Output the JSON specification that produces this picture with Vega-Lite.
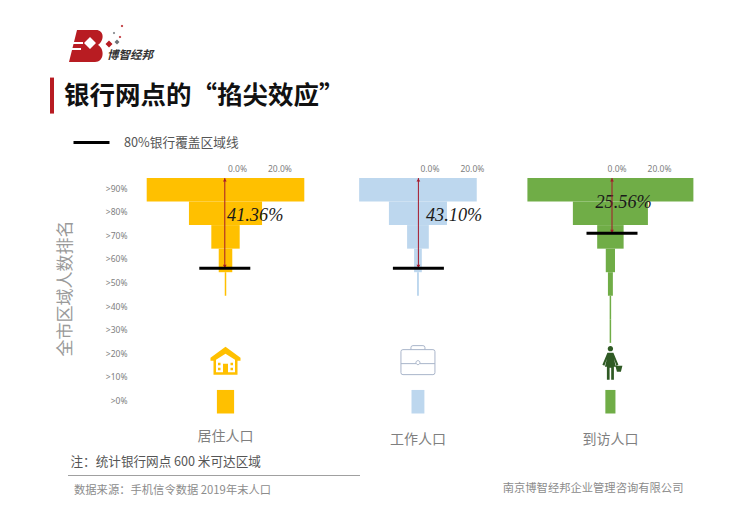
{
"$schema":"https://vega.github.io/schema/vega-lite/v6.json",
"width":738,"height":508,"padding":0,"background":"white",
"autosize":{"type":"fit","contains":"padding"},
"config":{"view":{"stroke":null},"font":"Noto Sans CJK SC"},
"datasets":{
"bars":[
{"group":"居住人口","rank":">90%","share":73.3},{"group":"居住人口","rank":">80%","share":34.0},{"group":"居住人口","rank":">70%","share":13.2},{"group":"居住人口","rank":">60%","share":6.3},{"group":"居住人口","rank":">50%","share":0.7},{"group":"居住人口","rank":">0%","share":8.0},
{"group":"工作人口","rank":">90%","share":54.7},{"group":"工作人口","rank":">80%","share":27.0},{"group":"工作人口","rank":">70%","share":10.1},{"group":"工作人口","rank":">60%","share":3.6},{"group":"工作人口","rank":">50%","share":0.9},{"group":"工作人口","rank":">0%","share":6.0},
{"group":"到访人口","rank":">90%","share":77.2},{"group":"到访人口","rank":">80%","share":34.9},{"group":"到访人口","rank":">70%","share":12.3},{"group":"到访人口","rank":">60%","share":4.3},{"group":"到访人口","rank":">50%","share":2.3},{"group":"到访人口","rank":">40%","share":0.7},{"group":"到访人口","rank":">30%","share":0.7},{"group":"到访人口","rank":">0%","share":4.7}
],
"cover":[
{"group":"居住人口","rank":">80%","coverage":"41.36%","cutoff":61.66},
{"group":"工作人口","rank":">80%","coverage":"43.10%","cutoff":61.66},
{"group":"到访人口","rank":">90%","coverage":"25.56%","cutoff":76.5}
],
"ticks":[
{"group":"居住人口","rank":"h7","label":"0.0%","value":0},{"group":"居住人口","rank":"h7","label":"20.0%","value":20},
{"group":"工作人口","rank":"h7","label":"0.0%","value":0},{"group":"工作人口","rank":"h7","label":"20.0%","value":20},
{"group":"到访人口","rank":"h7","label":"0.0%","value":0},{"group":"到访人口","rank":"h7","label":"20.0%","value":20}
]
},
"resolve":{"scale":{"x":"independent","y":"independent","color":"independent"}},
"layer":[
{
"encoding":{
"x":{"field":"group","type":"nominal","axis":null,"scale":{"type":"point","domain":["居住人口","工作人口","到访人口"],"range":[225.5,610.4],"padding":0}},
"y":{"field":"rank","type":"ordinal","scale":{"type":"band","domain":["h1","h2","h3","h4","h5","h6","h7",">90%",">80%",">70%",">60%",">50%",">40%",">30%",">20%",">10%",">0%","b1","b2","b3","b4"],"range":[13.15,507.7],"paddingInner":0,"paddingOuter":0},
"axis":{"values":[">90%",">80%",">70%",">60%",">50%",">40%",">30%",">20%",">10%",">0%"],"offset":-127,"domain":false,"ticks":false,"labelPadding":0,"labelFontSize":8.5,"labelColor":"#808080","labelOffset":-1,"labelFont":"Noto Sans","title":"全市区域人数排名","titleFontSize":17,"titleFontWeight":"normal","titleColor":"#9a9a9a","titleAngle":270,"titleX":-62,"titleY":288,"titleAlign":"center","titleBaseline":"middle"}}
},
"layer":[
{"data":{"name":"bars"},"mark":{"type":"bar","orient":"vertical"},
"encoding":{"size":{"field":"share","type":"quantitative","legend":null,"scale":{"domain":[0,100],"range":[0,215]}},
"color":{"field":"group","type":"nominal","legend":null,"scale":{"domain":["居住人口","工作人口","到访人口"],"range":["#ffc000","#bdd7ee","#70ad47"]}}}},
{"data":{"values":[{"group":"居住人口","rank":">20%"}]},"mark":{"type":"point","filled":true,"opacity":1,"size":4,"color":"#ffc000","shape":"M0,-8 L15,3 L15,6 L12,6 L12,20 L-12,20 L-12,6 L-15,6 L-15,3 Z M-9.5,5 L-9.5,17.5 L9.5,17.5 L9.5,5 L0,-1 Z M-7.5,8 L-5,8 L-5,10.5 L-7.5,10.5 Z M5,8 L7.5,8 L7.5,10.5 L5,10.5 Z M-7.5,13 L-5,13 L-5,15.5 L-7.5,15.5 Z M5,13 L7.5,13 L7.5,15.5 L5,15.5 Z M-2.5,9 L2.5,9 L2.5,18 L-2.5,18 Z"}},
{"data":{"values":[{"group":"工作人口","rank":">20%"}]},"mark":{"type":"point","filled":false,"opacity":1,"size":4,"stroke":"#a9b5ca","strokeWidth":1,"shape":"M-15,-5 L15,-5 Q17,-5 17,-3 L17,18 Q17,20 15,20 L-15,20 Q-17,20 -17,18 L-17,-3 Q-17,-5 -15,-5 Z M-17,9 L-2,9 M2,9 L17,9 M-7,-5 L-7,-7 Q-7,-9 -5,-9 L5,-9 Q7,-9 7,-7 L7,-5 M-2,8 a2,2 0 1,0 4,0 a2,2 0 1,0 -4,0"}},
{"data":{"values":[{"group":"到访人口","rank":">20%"}]},"mark":{"type":"point","filled":true,"opacity":1,"size":4,"color":"#2f5a24","shape":"M-2.7,-6 a2.7,2.7 0 1,0 5.4,0 a2.7,2.7 0 1,0 -5.4,0 Z M-3,-2 L3,-2 L8,10 L6,11 L3.5,4 L5.5,12 L3.5,12 L3.5,25 L0.8,25 L0.8,13 L-0.8,13 L-0.8,25 L-3.5,25 L-3.5,12 L-5.5,12 L-3.5,4 L-6,11 L-8,10 Z M5,11 L12,11 L10.5,17 L6.5,17 Z"}},
{"data":{"values":[{"group":"居住人口","rank":"h2"}]},"mark":{"type":"point","filled":true,"opacity":1,"size":4,"color":"#b81c22","xOffset":-138.5,"yOffset":-2.5,"shape":"M-10,-16 L9,-16 C17,-16 18,-6 11,-1 C18,3 17,16 8,16 L-18,16 Z M3,-9 L-3,-3 L3,3 L9,-3 Z M-4,-4 L-13,-4 L-13.5,-2 L-4,-2 Z M-6,2 L-14.5,2 L-15,4 L-6,4 Z M22,-5.5 L18.5,-2 L22,1.5 L25.5,-2 Z M35,-21.3 L33.7,-20 L35,-18.7 L36.3,-20 Z M33,-10.3 L31.7,-9 L33,-7.7 L34.3,-9 Z"}},
{"data":{"values":[{"group":"居住人口","rank":"h2"}]},"mark":{"type":"point","filled":true,"opacity":1,"size":4,"color":"#6f7478","xOffset":-138.5,"yOffset":-2.5,"shape":"M30,-6.5 L27.5,-4 L30,-1.5 L32.5,-4 Z M27,-14.2 L25.8,-13 L27,-11.8 L28.2,-13 Z"}},
{"data":{"values":[{"group":"居住人口","rank":"h2","text":"博智经邦"}]},"mark":{"type":"text","align":"left","baseline":"middle","dx":-118.5,"dy":8,"fontSize":11.5,"fontWeight":"bold","fontStyle":"italic","color":"#333333"},"encoding":{"text":{"field":"text"}}},
{"data":{"values":[{"group":"居住人口","rank":"h4"}]},"mark":{"type":"tick","orient":"vertical","size":36,"thickness":4,"xOffset":-173.5,"color":"#b81c22","opacity":1}},
{"data":{"values":[{"group":"居住人口","rank":"h4","text":"银行网点的“掐尖效应”"}]},"mark":{"type":"text","align":"left","baseline":"middle","dx":-161.5,"fontSize":25.5,"fontWeight":"bold","color":"#111111"},"encoding":{"text":{"field":"text"}}},
{"data":{"name":"ticks"},"transform":[{"filter":"datum.group!=='到访人口' && datum.value===0"}],"mark":{"type":"text","dx":12,"dy":3,"fontSize":8.5,"font":"Noto Sans","color":"#808080"},"encoding":{"text":{"field":"label"}}},
{"data":{"name":"ticks"},"transform":[{"filter":"datum.group!=='到访人口' && datum.value===20"}],"mark":{"type":"text","dx":54.4,"dy":3,"fontSize":8.5,"font":"Noto Sans","color":"#808080"},"encoding":{"text":{"field":"label"}}},
{"data":{"name":"ticks"},"transform":[{"filter":"datum.group==='到访人口' && datum.value===0"}],"mark":{"type":"text","dx":6.7,"dy":3,"fontSize":8.5,"font":"Noto Sans","color":"#808080"},"encoding":{"text":{"field":"label"}}},
{"data":{"name":"ticks"},"transform":[{"filter":"datum.group==='到访人口' && datum.value===20"}],"mark":{"type":"text","dx":49.1,"dy":3,"fontSize":8.5,"font":"Noto Sans","color":"#808080"},"encoding":{"text":{"field":"label"}}},
{"data":{"name":"cover"},"transform":[{"filter":"datum.group==='居住人口'"}],"mark":{"type":"text","align":"left","dx":1.5,"dy":3,"font":"Liberation Serif","fontStyle":"italic","fontSize":18.3,"color":"#1a1a1a"},"encoding":{"text":{"field":"coverage"}}},
{"data":{"name":"cover"},"transform":[{"filter":"datum.group==='工作人口'"}],"mark":{"type":"text","align":"left","dx":8,"dy":3,"font":"Liberation Serif","fontStyle":"italic","fontSize":18.3,"color":"#1a1a1a"},"encoding":{"text":{"field":"coverage"}}},
{"data":{"name":"cover"},"transform":[{"filter":"datum.group==='到访人口'"}],"mark":{"type":"text","align":"left","dx":-15,"dy":13,"font":"Liberation Serif","fontStyle":"italic","fontSize":18.3,"color":"#1a1a1a"},"encoding":{"text":{"field":"coverage"}}},
{"data":{"values":[{"group":"居住人口","rank":"b1"}]},"mark":{"type":"text","dy":11.4,"fontSize":14,"color":"#7f7f7f"},"encoding":{"text":{"field":"group"}}},
{"data":{"values":[{"group":"工作人口","rank":"b1"},{"group":"到访人口","rank":"b1"}]},"mark":{"type":"text","dy":14.7,"fontSize":14,"color":"#7f7f7f"},"encoding":{"text":{"field":"group"}}},
{"data":{"values":[{"group":"居住人口","rank":"b2","text":"注：统计银行网点 600 米可达区域"}]},"mark":{"type":"text","align":"left","dx":-155,"dy":13,"fontSize":12.6,"fontWeight":"normal","color":"#555555"},"encoding":{"text":{"field":"text"}}},
{"data":{"values":[{"group":"居住人口","rank":"b3"}]},"mark":{"type":"tick","orient":"horizontal","size":292,"thickness":1,"xOffset":-11.5,"yOffset":3,"color":"#a0a0a0","opacity":1}},
{"data":{"values":[{"group":"居住人口","rank":"b4","text":"数据来源：手机信令数据 2019年末人口"}]},"mark":{"type":"text","align":"left","dx":-151.5,"dy":-5,"fontSize":11.3,"color":"#8c8c8c"},"encoding":{"text":{"field":"text"}}},
{"data":{"values":[{"group":"到访人口","rank":"b4","text":"南京博智经邦企业管理咨询有限公司"}]},"mark":{"type":"text","align":"left","dx":-107.7,"dy":-7,"fontSize":11.3,"color":"#8c8c8c"},"encoding":{"text":{"field":"text"}}}
]
},
{
"data":{"name":"cover"},
"encoding":{
"x":{"field":"group","type":"nominal","axis":null,"scale":{"type":"point","domain":["居住人口","工作人口","到访人口"],"range":[224.8,612],"padding":0}},
"y":{"field":"cutoff","type":"quantitative","axis":null,"scale":{"domain":[0,100],"range":[413.5,178],"nice":false}}
},
"layer":[
{"mark":{"type":"rule","color":"#a5192a","strokeWidth":1},
"encoding":{"y2":{"datum":100}}},
{"mark":{"type":"point","filled":true,"shape":"triangle-up","size":14,"color":"#a5192a","opacity":1,"yOffset":2},
"encoding":{"y":{"datum":100,"type":"quantitative"}}},
{"mark":{"type":"point","filled":true,"shape":"triangle-down","size":14,"color":"#a5192a","opacity":1,"yOffset":-2}},
{"mark":{"type":"tick","orient":"horizontal","size":51,"thickness":3,"opacity":1},
"encoding":{
"color":{"datum":"80%银行覆盖区域线","type":"nominal","scale":{"range":["#000000"]},"legend":{"orient":"none","legendX":72,"legendY":123,"title":null,"symbolType":"stroke","symbolSize":1296,"symbolStrokeWidth":3,"symbolStrokeColor":"#000000","labelFontSize":12.7,"labelColor":"#555555","labelOffset":13,"labelFont":"Noto Sans CJK SC"}}}}
]
}
]
}
